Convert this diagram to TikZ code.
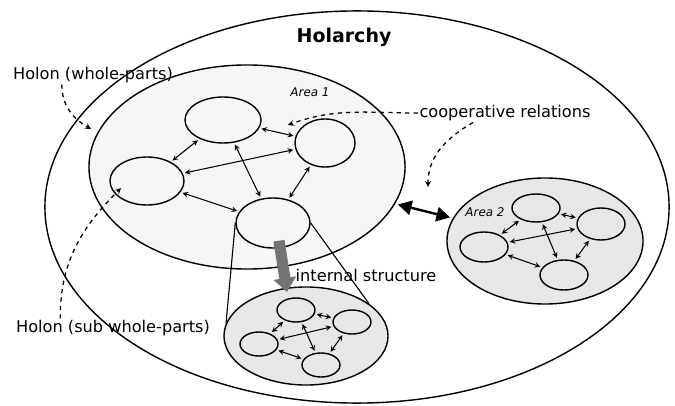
\documentclass[tikz,border=0pt]{standalone}
\usepackage{fontspec}
\setmainfont{DejaVu Sans}
\usepackage{xcolor}
\usepackage{tikz}
\usetikzlibrary{shapes.geometric,arrows.meta}
\tikzset{ell/.style 2 args={ellipse,draw,line width=1pt,inner sep=0pt,minimum width=#1*0.05cm,minimum height=#2*0.05cm}}
\tikzset{rel/.style={<->,line width=0.75pt,shorten >=1.5pt,shorten <=1.5pt}}
\tikzset{hint/.style={->,dashed,line width=0.9pt}}
\tikzset{lbl/.style={inner sep=1pt,font=\fontsize{11.5}{13}\selectfont}}

\begin{document}
\begin{tikzpicture}[>=stealth,x=0.025cm,y=0.025cm]
    \useasboundingbox (0,0) rectangle (675,-406);
    \node[ell={312}{196}] (hol) at (357,-207) {};
    \node[ell={158}{102},fill=gray!7] (area1) at (247,-167) {};
    \node[ell={98}{63},fill=gray!19] (area2) at (545,-241) {};
    \node[ell={82}{49},fill=gray!19] (sub) at (306,-336) {};

    % area 1
    \node[ell={38}{23}] (a1t) at (223,-120) {};
    \node[ell={30}{24}] (a1r) at (325,-143) {};
    \node[ell={37}{24}] (a1l) at (147,-181) {};
    \node[ell={37}{25}] (a1b) at (273,-223) {};
    % area 2
    \node[ell={24}{14}] (a2t) at (536,-208) {};
    \node[ell={24}{16}] (a2r) at (601,-224) {};
    \node[ell={24}{15}] (a2l) at (484,-247) {};
    \node[ell={24}{15}] (a2b) at (564,-275) {};
    % internal structure
    \node[ell={19}{12}] (st) at (296,-310) {};
    \node[ell={19}{12}] (sr) at (352,-322) {};
    \node[ell={19}{12}] (sl) at (259,-344) {};
    \node[ell={19}{12}] (sb) at (321,-365) {};

    \node[font=\bfseries\fontsize{13.5}{15}\selectfont] (title) at (344,-37) {Holarchy};
    \node[font=\itshape\fontsize{8.5}{10}\selectfont] (ar1) at (310,-92) {Area 1};
    \node[font=\itshape\fontsize{8.5}{10}\selectfont] (ar2) at (485,-212) {Area 2};
    \node[lbl] (lbwp) at (93,-75) {Holon (whole-parts)};
    \node[lbl] (lbsub) at (113,-328) {Holon (sub whole-parts)};
    \node[lbl] (lbcoop) at (505,-113) {cooperative relations};
    \node[lbl] (lbint) at (366,-275) {internal structure};

    \coordinate (wp) at (91,-129);
    \coordinate (sp) at (121,-188);
    \coordinate (cp1) at (288,-125);
    \coordinate (cp2) at (428,-187);
    \coordinate (tip) at (287,-292);

    \draw [rel] (a1t) to [] (a1l);
    \draw [rel] (a1t) to [] (a1r);
    \draw [rel] (a1l) to [] (a1r);
    \draw [rel] (a1t) to [] (a1b);
    \draw [rel] (a1l) to [] (a1b);
    \draw [rel] (a1r) to [] (a1b);

    \draw [rel] (a2t) to [] (a2l);
    \draw [rel] (a2t) to [] (a2r);
    \draw [rel] (a2l) to [] (a2r);
    \draw [rel] (a2t) to [] (a2b);
    \draw [rel] (a2l) to [] (a2b);
    \draw [rel] (a2r) to [] (a2b);

    \draw [rel] (st) to [] (sl);
    \draw [rel] (st) to [] (sr);
    \draw [rel] (sl) to [] (sr);
    \draw [rel] (st) to [] (sb);
    \draw [rel] (sl) to [] (sb);
    \draw [rel] (sr) to [] (sb);

    \draw [{Triangle[length=0.34cm,width=0.36cm]}-{Triangle[length=0.34cm,width=0.36cm]},line width=1.7pt,shorten >=2pt,shorten <=2pt] (area1) to [] (area2);
    \draw [line width=0.8pt] (a1b.west) to [] (sub.171);
    \draw [line width=0.8pt] (a1b.east) to [] (sub.27);
    \draw [-{Triangle[length=0.35cm,width=0.55cm]},line width=0.28cm,black!55] ([xshift=0.15cm,yshift=0.2cm]a1b.south) to [] (tip);

    \draw [hint] ([xshift=-0.78cm]lbwp.south) to [out=-90,in=150] (wp);
    \draw [hint] ([xshift=-1.32cm]lbsub.north) to [out=90,in=-135] (sp);
    \draw [hint] (lbcoop.west) to [out=180,in=20] (cp1);
    \draw [hint] ([xshift=-0.8cm]lbcoop.south) to [out=210,in=90] (cp2);
\end{tikzpicture}
\end{document}
